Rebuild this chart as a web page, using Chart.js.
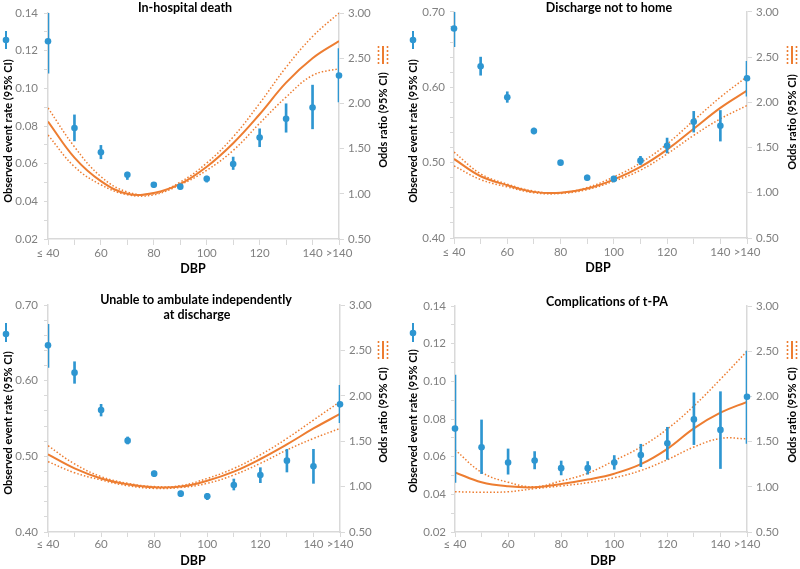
<!DOCTYPE html>
<html><head><meta charset="utf-8">
<script src="https://cdn.jsdelivr.net/npm/chart.js@4/dist/chart.umd.min.js"></script>
<style>
html,body{margin:0;padding:0;background:#fff;width:800px;height:569px;overflow:hidden}
canvas{position:absolute}
</style></head><body>
<canvas id="c1" width="400" height="285" style="left:0;top:0"></canvas>
<canvas id="c2" width="400" height="285" style="left:400px;top:0"></canvas>
<canvas id="c3" width="400" height="284" style="left:0;top:285px"></canvas>
<canvas id="c4" width="400" height="284" style="left:400px;top:285px"></canvas>
<script>
// ---------- data ----------
const dbp = [40, 50, 60, 70, 80, 90, 100, 110, 120, 130, 140, 150];
const xTickLabels = ['≤ 40', '', '60', '', '80', '', '100', '', '120', '', '140', '>140'];
const leftAxisTitle = 'Observed event rate (95% CI)';
const rightAxisTitle = 'Odds ratio (95% CI)';
const xAxisTitle = 'DBP';

// In-hospital death
const deathRate = [0.125, 0.0789, 0.0661, 0.0541, 0.0488, 0.0478, 0.052, 0.0598, 0.0739, 0.0838, 0.0898, 0.1068];
const deathLow  = [0.108, 0.0721, 0.0626, 0.0516, 0.0474, 0.0465, 0.0502, 0.0569, 0.069, 0.0767, 0.0785, 0.0928];
const deathHigh = [0.14, 0.0859, 0.0697, 0.0555, 0.0499, 0.049, 0.0534, 0.0635, 0.0785, 0.0918, 0.1017, 0.1211];
const deathOR   = [1.80, 1.40, 1.14, 1.00, 1.01, 1.11, 1.30, 1.56, 1.88, 2.23, 2.50, 2.69];
const deathORHi = [1.95, 1.52, 1.19, 1.02, 1.00, 1.13, 1.34, 1.63, 2.00, 2.40, 2.74, 3.00];
const deathORLo = [1.65, 1.30, 1.10, 0.99, 0.99, 1.10, 1.26, 1.48, 1.78, 2.07, 2.31, 2.385];

// Discharge not to home
const homeRate = [0.678, 0.6278, 0.5868, 0.542, 0.500, 0.480, 0.4784, 0.5026, 0.5225, 0.5542, 0.5489, 0.6119];
const homeLow  = [0.654, 0.616, 0.580, 0.538, 0.497, 0.4767, 0.4744, 0.4974, 0.5128, 0.5405, 0.5286, 0.5881];
const homeHigh = [0.70, 0.640, 0.594, 0.546, 0.503, 0.4835, 0.482, 0.5084, 0.5326, 0.568, 0.5692, 0.6344];
const homeOR   = [1.374, 1.183, 1.084, 1.01, 1.00, 1.047, 1.146, 1.286, 1.477, 1.708, 1.939, 2.13];
const homeORHi = [1.45, 1.21, 1.095, 1.018, 1.0, 1.058, 1.175, 1.33, 1.54, 1.80, 2.057, 2.284];
const homeORLo = [1.297, 1.146, 1.065, 1.0, 0.992, 1.036, 1.128, 1.25, 1.43, 1.635, 1.818, 1.965];

// Unable to ambulate independently at discharge
const ambRate = [0.6467, 0.6106, 0.5612, 0.5207, 0.4771, 0.4507, 0.4471, 0.4621, 0.4753, 0.4943, 0.4868, 0.5687];
const ambLow  = [0.6176, 0.5965, 0.5533, 0.5163, 0.4731, 0.4467, 0.4427, 0.4555, 0.4652, 0.4793, 0.4643, 0.5445];
const ambHigh = [0.6744, 0.625, 0.5687, 0.5256, 0.4806, 0.4542, 0.4511, 0.47, 0.485, 0.5093, 0.5093, 0.5938];
const ambOR   = [1.355, 1.201, 1.09, 1.025, 0.992, 1.0, 1.065, 1.165, 1.304, 1.465, 1.64, 1.80];
const ambORHi = [1.45, 1.25, 1.11, 1.036, 1.0, 1.01, 1.09, 1.20, 1.35, 1.53, 1.733, 1.935];
const ambORLo = [1.275, 1.153, 1.073, 1.01, 0.98, 0.99, 1.036, 1.128, 1.256, 1.403, 1.53, 1.64];

// Complications of t-PA
const tpaRate = [0.0749, 0.065, 0.0569, 0.0579, 0.0539, 0.0539, 0.0569, 0.0609, 0.0671, 0.0798, 0.0742, 0.0918];
const tpaLow  = [0.0463, 0.051, 0.0507, 0.0535, 0.0503, 0.0507, 0.0533, 0.0547, 0.0586, 0.0664, 0.0537, 0.0671];
const tpaHigh = [0.1033, 0.0795, 0.0641, 0.0627, 0.0577, 0.0574, 0.0606, 0.0666, 0.0756, 0.0939, 0.0945, 0.116];
const tpaOR   = [1.16, 1.05, 1.005, 0.995, 1.03, 1.08, 1.145, 1.25, 1.42, 1.647, 1.82, 1.94];
const tpaORHi = [1.41, 1.16, 1.05, 1.0, 1.065, 1.15, 1.29, 1.44, 1.64, 1.895, 2.19, 2.5];
const tpaORLo = [0.945, 0.94, 0.945, 0.98, 1.01, 1.045, 1.10, 1.18, 1.30, 1.44, 1.535, 1.53];

// ---------- styling ----------
const BLUE = '#2E96D1';
const ORANGE = '#ED7D31';
const AXIS = '#d9d9d9';
const TICK = '#808080';
const FONT = 'Lato';

function makeChart(id, p) {
  const canvas = document.getElementById(id);
  const W = canvas.width, H = canvas.height;
  const pts = (ys) => dbp.map((x, i) => ({x: x, y: ys[i]}));
  const bars = dbp.map((x, i) => ({x: x, y: [p.low[i], p.high[i]]}));
  const isLabel = (v, step) => Math.abs(v / step - Math.round(v / step)) < 1e-6;

  const textPlugin = {
    id: 'panelText',
    afterDraw(chart) {
      const ctx = chart.ctx;
      ctx.save();
      ctx.fillStyle = '#000';
      ctx.textAlign = 'center';
      ctx.textBaseline = 'middle';
      ctx.font = 'bold 12.5px ' + FONT;
      p.title.forEach(t => ctx.fillText(t[0], t[1], t[2]));
      ctx.fillText(xAxisTitle, p.dbpPos[0], p.dbpPos[1]);
      ctx.font = 'bold 11px ' + FONT;
      [[leftAxisTitle, p.lt], [rightAxisTitle, p.rt]].forEach(([txt, pos]) => {
        ctx.save();
        ctx.translate(pos[0], pos[1]);
        ctx.rotate(-Math.PI / 2);
        ctx.fillText(txt, 0, 0);
        ctx.restore();
      });
      // left legend icon (rate with CI)
      const li = p.li;
      ctx.strokeStyle = BLUE; ctx.lineWidth = 2;
      ctx.beginPath(); ctx.moveTo(li[0], li[1]); ctx.lineTo(li[0], li[2]); ctx.stroke();
      ctx.fillStyle = BLUE;
      ctx.beginPath(); ctx.arc(li[0], li[3], 3.3, 0, Math.PI * 2); ctx.fill();
      // right legend icon (odds ratio with CI)
      const ri = p.ri;
      ctx.strokeStyle = ORANGE;
      [-4.5, 0, 4.5].forEach(dx => {
        ctx.setLineDash(dx === 0 ? [] : [2, 2]);
        ctx.lineWidth = dx === 0 ? 2 : 1.6;
        ctx.beginPath(); ctx.moveTo(ri[0] + dx, ri[1]); ctx.lineTo(ri[0] + dx, ri[2]); ctx.stroke();
      });
      ctx.restore();
    }
  };

  return new Chart(canvas, {
    type: 'scatter',
    data: {
      datasets: [
        {type: 'scatter', data: pts(p.rate), yAxisID: 'y', backgroundColor: BLUE, borderWidth: 0,
         pointRadius: 3.3, pointHoverRadius: 3.3, clip: false, order: 0},
        {type: 'bar', data: bars, yAxisID: 'y', backgroundColor: BLUE, borderWidth: 0,
         barThickness: 2, order: 1},
        {type: 'line', data: pts(p.or), yAxisID: 'y1', borderColor: ORANGE, borderWidth: 2,
         pointRadius: 0, tension: 0.4, fill: false, order: 2},
        {type: 'line', data: pts(p.orHi), yAxisID: 'y1', borderColor: ORANGE, borderWidth: 1.5,
         borderDash: [1.5, 2], pointRadius: 0, tension: 0.4, fill: false, order: 3},
        {type: 'line', data: pts(p.orLo), yAxisID: 'y1', borderColor: ORANGE, borderWidth: 1.5,
         borderDash: [1.5, 2], pointRadius: 0, tension: 0.4, fill: false, order: 4}
      ]
    },
    options: {
      responsive: false,
      animation: false,
      events: [],
      layout: {autoPadding: false, padding: {top: p.area.t, left: 0, right: 0, bottom: 0}},
      plugins: {legend: {display: false}, tooltip: {enabled: false}, title: {display: false}},
      scales: {
        x: {
          type: 'linear', min: 40, max: 150, offset: false,
          afterFit: s => { s.height = H - p.area.b; },
          afterBuildTicks: s => { s.ticks = dbp.map(v => ({value: v})); },
          ticks: {autoSkip: false, maxRotation: 0, minRotation: 0, padding: p.xPad,
                  color: TICK, font: {family: FONT, size: 11.5},
                  callback: v => { const i = dbp.indexOf(v); return i >= 0 ? xTickLabels[i] : ''; }},
          grid: {display: true, drawOnChartArea: false, drawTicks: true, tickLength: p.xTick, color: AXIS, offset: false},
          border: {display: true, color: AXIS, width: 1.5}
        },
        y: {
          type: 'linear', position: 'left', min: p.yMin, max: p.yMax, beginAtZero: false,
          afterFit: s => { s.width = p.area.l; },
          ticks: {stepSize: p.yMinor, autoSkip: false, padding: p.yPad, color: TICK, font: {family: FONT, size: 11.5},
                  callback: v => isLabel(v, p.yLabelStep) ? v.toFixed(2) : ''},
          grid: {display: true, drawOnChartArea: false, drawTicks: true, tickLength: 4, color: AXIS},
          border: {display: true, color: AXIS, width: 1.5}
        },
        y1: {
          type: 'linear', position: 'right', min: 0.5, max: 3.0,
          afterFit: s => { s.width = W - p.area.r; },
          ticks: {stepSize: 0.5, padding: 4, color: TICK, font: {family: FONT, size: 11.5},
                  callback: v => v.toFixed(2)},
          grid: {display: true, drawOnChartArea: false, drawTicks: true, tickLength: 5, color: AXIS},
          border: {display: true, color: AXIS, width: 1.5}
        }
      }
    },
    plugins: [textPlugin]
  });
}

makeChart('c1', {
  rate: deathRate, low: deathLow, high: deathHigh, or: deathOR, orHi: deathORHi, orLo: deathORLo,
  yMin: 0.02, yMax: 0.14, yMinor: 0.01, yLabelStep: 0.02,
  area: {l: 48, r: 339, t: 13, b: 239}, xTick: 6, xPad: 1, yPad: 6,
  title: [['In-hospital death', 185, 8]], dbpPos: [193, 269],
  lt: [8, 131], li: [6, 31, 49, 40], rt: [383, 120], ri: [383, 46, 64]
});
makeChart('c2', {
  rate: homeRate, low: homeLow, high: homeHigh, or: homeOR, orHi: homeORHi, orLo: homeORLo,
  yMin: 0.40, yMax: 0.70, yMinor: 0.02, yLabelStep: 0.1,
  area: {l: 54, r: 347, t: 11, b: 238}, xTick: 6, xPad: 1, yPad: 5,
  title: [['Discharge not to home', 209, 8]], dbpPos: [198, 268],
  lt: [13, 131], li: [13, 31, 49, 40], rt: [392, 122], ri: [392, 46, 64]
});
makeChart('c3', {
  rate: ambRate, low: ambLow, high: ambHigh, or: ambOR, orHi: ambORHi, orLo: ambORLo,
  yMin: 0.40, yMax: 0.70, yMinor: 0.02, yLabelStep: 0.1,
  area: {l: 48, r: 340, t: 20, b: 247}, xTick: 5, xPad: 0, yPad: 6,
  title: [['Unable to ambulate independently', 196, 15], ['at discharge', 197, 30]], dbpPos: [193, 276],
  lt: [8, 138], li: [6, 38, 57, 49], rt: [383, 130], ri: [383, 56, 74]
});
makeChart('c4', {
  rate: tpaRate, low: tpaLow, high: tpaHigh, or: tpaOR, orHi: tpaORHi, orLo: tpaORLo,
  yMin: 0.02, yMax: 0.14, yMinor: 0.01, yLabelStep: 0.02,
  area: {l: 55, r: 347, t: 21, b: 247}, xTick: 5, xPad: 0, yPad: 5,
  title: [['Complications of t-PA', 207, 17]], dbpPos: [203, 276],
  lt: [13, 136], li: [13, 38, 57, 48], rt: [392, 130], ri: [392, 56, 74]
});
</script>
</body></html>
